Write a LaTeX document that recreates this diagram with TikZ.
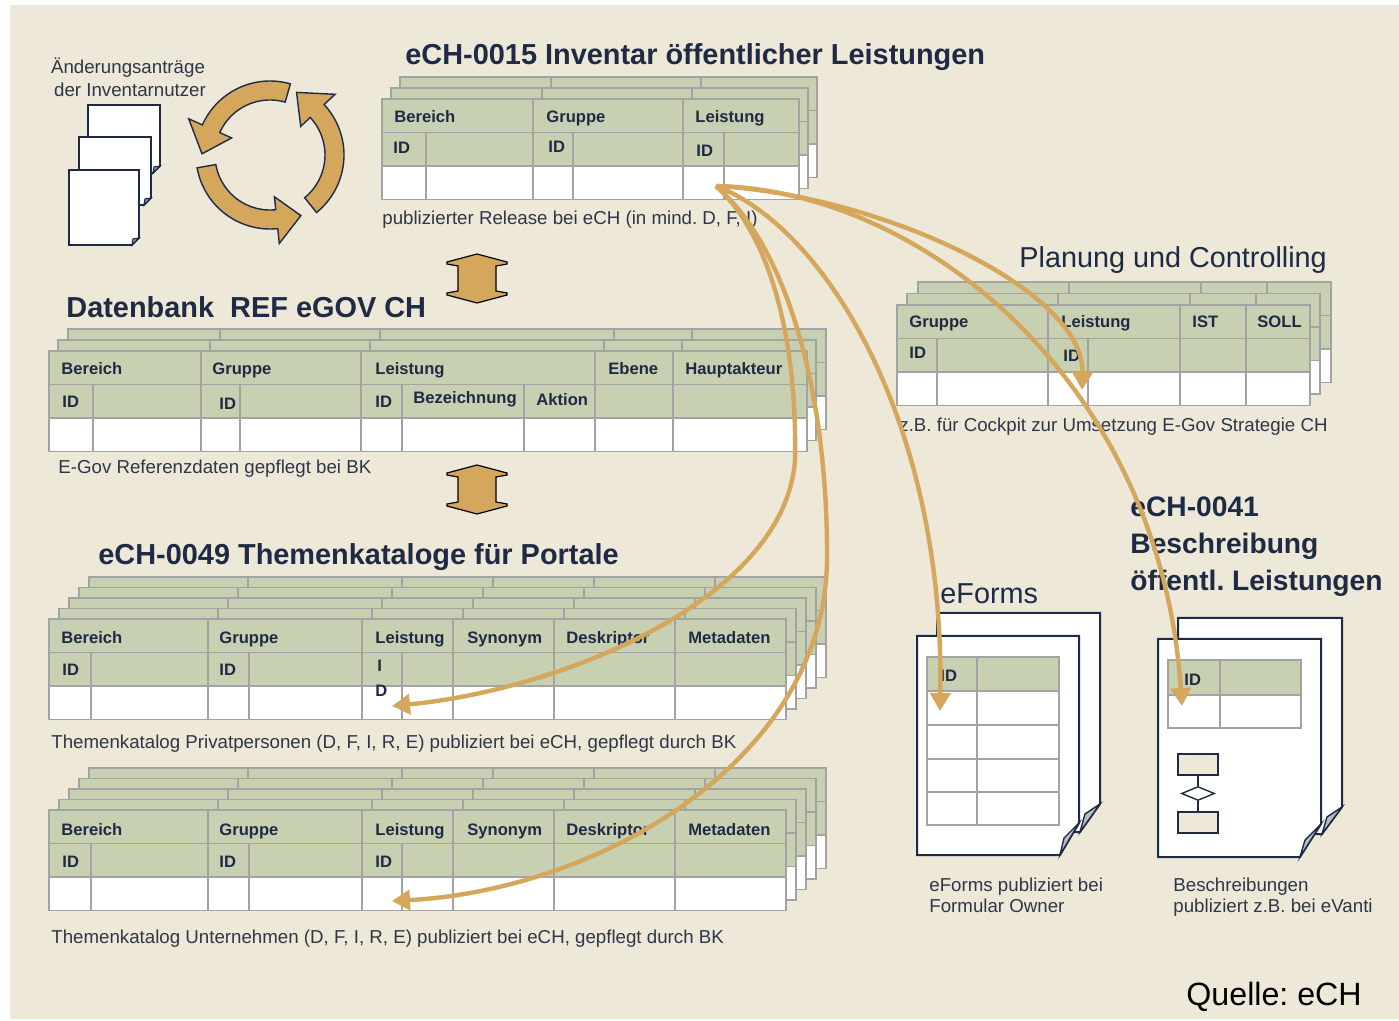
\documentclass[tikz,border=0pt]{standalone}
\usepackage{fontspec}
\setmainfont{Liberation Sans}
\usetikzlibrary{arrows.meta,shapes.geometric}
\frenchspacing
\definecolor{bg}{HTML}{EDE8D8}
\definecolor{hdr}{HTML}{C8D0B2}
\definecolor{gridc}{HTML}{A3A3A3}
\definecolor{gold}{HTML}{D4A75C}
\definecolor{navy}{HTML}{1E2B48}
\definecolor{txt}{HTML}{1F2A44}
\definecolor{capc}{HTML}{2F3648}
\definecolor{foldc}{HTML}{B9BDC3}

\newcommand{\ptab}[4]{%
  \begin{scope}[shift={#1}]
    \fill[white] (0,0) rectangle (#2,100.5);
    \fill[hdr] (0,0) rectangle (#2,67);
    \draw[tabline] (0,0) rectangle (#2,100.5) (0,33.5) -- (#2,33.5) (0,67) -- (#2,67);
    \foreach \xx in {#3} \draw[tabline] (\xx,0) -- (\xx,33.5);
    \foreach \xx in {#4} \draw[tabline] (\xx,33.5) -- (\xx,100.5);
  \end{scope}}

\newcommand{\smallpage}[4]{%
  \filldraw[fill=white, draw=navy, line width=0.8pt] (#1,#2) -- (#3,#2) -- (#3,#4-7) -- (#3-7,#4) -- (#1,#4) -- cycle;
  \filldraw[fill=navy!45, draw=navy, line width=0.6pt] (#3,#4-7) -- (#3-7,#4) -- (#3-6,#4-6) -- cycle;}

\newcommand{\cycarrow}[3]{% tail angle, head base angle, tip angle
  \filldraw[fill=gold, draw=navy, line width=0.7pt]
    plot[domain=#1:#2, samples=40] ({270+74*cos(\x)},{155+74*sin(\x)})
    -- ({270+89*cos(#2)},{155+89*sin(#2)})
    -- ({270+68*cos(#3)},{155+68*sin(#3)})
    -- ({270+42*cos(#2)},{155+42*sin(#2)})
    -- plot[domain=#2:#1, samples=40] ({270+55*cos(\x)},{155+55*sin(\x)})
    -- cycle;}

\begin{document}
\begin{tikzpicture}[x=0.5pt,y=-0.5pt,
  tabline/.style={draw=gridc, line width=0.8pt},
  lab/.style={anchor=west, inner sep=0pt, text=txt, font=\fontsize{8.3}{10}\selectfont\bfseries, text height=5.95pt, text depth=0pt},
  capt/.style={anchor=west, inner sep=0pt, text=capc, font=\fontsize{9.35}{11}\selectfont, text height=6.7pt, text depth=0pt},
  ttl/.style={anchor=west, inner sep=0pt, text=txt, font=\fontsize{14.45}{17}\selectfont\bfseries, text height=10.3pt, text depth=0pt},
  bigreg/.style={anchor=west, inner sep=0pt, text=txt, font=\fontsize{14.4}{17}\selectfont, text height=10.3pt, text depth=0pt},
  conn/.style={draw=gold, line width=2.2pt, -{Triangle[length=9pt,width=10pt]}},
  ibeam/.style={fill=gold, draw=black, line width=0.6pt},
  flowbox/.style={draw=navy, fill=bg, line width=0.7pt, minimum width=20pt, minimum height=10.5pt, inner sep=0pt},
  flowdia/.style={diamond, draw=navy, fill=white, line width=0.7pt, minimum width=16.5pt, minimum height=7pt, aspect=2.5, inner sep=0pt}]

\useasboundingbox (0,0) rectangle (1399,1021);
\fill[white] (0,0) rectangle (1399,1021);
\fill[bg] (10,5) rectangle (1399,1019);

% ---------- top left: change requests and cycle
\node[capt, anchor=center] (chg1) at (128,67) {Änderungsanträge};
\node[capt, anchor=center] (chg2) at (130,90) {der Inventarnutzer};
\smallpage{88}{105}{160}{173}
\smallpage{79}{137}{151}{205}
\smallpage{69}{170}{139}{245}
\cycarrow{-74}{-156}{-179}
\cycarrow{51}{-43}{-67}
\cycarrow{170}{84}{63}

% ---------- eCH-0015
\node[ttl] (t15) at (405,54) {eCH-0015 Inventar öffentlicher Leistungen};
\ptab{(400,77)}{417}{151,301}{44,151,191,301,342}
\ptab{(391,88)}{417}{151,301}{44,151,191,301,342}
\ptab{(382,99)}{417}{151,301}{44,151,191,301,342}
\node[lab] (a1) at (394,117) {Bereich};
\node[lab] (a2) at (546,117) {Gruppe};
\node[lab] (a3) at (695,117) {Leistung};
\node[lab] (a4) at (393,148) {ID};
\node[lab] (a5) at (548,147) {ID};
\node[lab] (a6) at (696,151) {ID};
\node[capt] (c15) at (382,218) {publizierter Release bei eCH (in mind. D, F, I)};

% ---------- I-beam arrows
\filldraw[ibeam] (477,254) -- (507,262) -- (507,264) -- (496,266) -- (496,291) -- (507,293) -- (507,295) -- (477,303) -- (447,295) -- (447,293) -- (458,291) -- (458,266) -- (447,264) -- (447,262) -- cycle;
\begin{scope}[shift={(0,211)}]
\filldraw[ibeam] (477,254) -- (507,262) -- (507,264) -- (496,266) -- (496,291) -- (507,293) -- (507,295) -- (477,303) -- (447,295) -- (447,293) -- (458,291) -- (458,266) -- (447,264) -- (447,262) -- cycle;
\end{scope}

% ---------- Datenbank REF eGOV CH
\node[ttl] (tdb) at (66,307) {Datenbank\ \ REF eGOV CH};
\ptab{(68,329)}{758}{152,312,546,624}{44,152,191,312,353,475,546,624}
\ptab{(58,340)}{758}{152,312,546,624}{44,152,191,312,353,475,546,624}
\ptab{(49,351)}{758}{152,312,546,624}{44,152,191,312,353,475,546,624}
\node[lab] (b1) at (61,369) {Bereich};
\node[lab] (b2) at (212,369) {Gruppe};
\node[lab] (b3) at (375,369) {Leistung};
\node[lab] (b4) at (608,369) {Ebene};
\node[lab] (b5) at (685,369) {Hauptakteur};
\node[lab] (b6) at (62,402) {ID};
\node[lab] (b7) at (219,404) {ID};
\node[lab] (b8) at (375,402) {ID};
\node[lab] (b9) at (413,398) {Bezeichnung};
\node[lab] (b10) at (536,400) {Aktion};
\node[capt] (cdb) at (58,467) {E-Gov Referenzdaten gepflegt bei BK};

% ---------- eCH-0049
\node[ttl] (t49) at (98,554) {eCH-0049 Themenkataloge für Portale};
\foreach \k in {4,3,2,1,0} {
  \ptab{({49+10*\k},{619-10.5*\k})}{737}{159,313,404,505,626}{42,159,200,313,353,404,505,626}
}
\node[lab] (p1) at (61,638) {Bereich};
\node[lab] (p2) at (219,638) {Gruppe};
\node[lab] (p3) at (375,638) {Leistung};
\node[lab] (p4) at (467,638) {Synonym};
\node[lab] (p5) at (566,638) {Deskriptor};
\node[lab] (p6) at (688,638) {Metadaten};
\node[lab] (p7) at (62,670) {ID};
\node[lab] (p8) at (219,670) {ID};
\node[lab] (p9) at (377,666) {I};
\node[lab] (p10) at (375,691) {D};
\node[capt] (cp) at (51,742) {Themenkatalog Privatpersonen (D, F, I, R, E) publiziert bei eCH, gepflegt durch BK};

\foreach \k in {4,3,2,1,0} {
  \ptab{({49+10*\k},{810-10.5*\k})}{737}{159,313,404,505,626}{42,159,200,313,353,404,505,626}
}
\node[lab] (u1) at (61,830) {Bereich};
\node[lab] (u2) at (219,830) {Gruppe};
\node[lab] (u3) at (375,830) {Leistung};
\node[lab] (u4) at (467,830) {Synonym};
\node[lab] (u5) at (566,830) {Deskriptor};
\node[lab] (u6) at (688,830) {Metadaten};
\node[lab] (u7) at (62,862) {ID};
\node[lab] (u8) at (219,862) {ID};
\node[lab] (u9) at (375,862) {ID};
\node[capt] (cu) at (51,937) {Themenkatalog Unternehmen (D, F, I, R, E) publiziert bei eCH, gepflegt durch BK};

% ---------- Planung und Controlling
\node[bigreg] (tpc) at (1019,257) {Planung und Controlling};
\ptab{(918,282)}{413}{151,283,349}{40,151,191,283,349}
\ptab{(907,293.5)}{413}{151,283,349}{40,151,191,283,349}
\ptab{(897,305)}{413}{151,283,349}{40,151,191,283,349}
\node[lab] (q1) at (909,322) {Gruppe};
\node[lab] (q2) at (1061,322) {Leistung};
\node[lab] (q3) at (1192,322) {IST};
\node[lab] (q4) at (1257,322) {SOLL};
\node[lab] (q5) at (909,353) {ID};
\node[lab] (q6) at (1063,356) {ID};
\node[capt] (cpc) at (899,425) {z.B. für Cockpit zur Umsetzung E-Gov Strategie CH};

% ---------- eForms
\node[bigreg] (tef) at (940,593) {eForms};
\filldraw[fill=white, draw=navy, line width=1pt] (937,613) -- (1100,613) -- (1100,804) -- (1080,832) -- (937,832) -- cycle;
\filldraw[fill=foldc, draw=navy, line width=0.7pt] (1100,804) -- (1080,832) -- (1085,814) -- cycle;
\filldraw[fill=white, draw=navy, line width=1pt] (917,636) -- (1079,636) -- (1079,823) -- (1060,855) -- (917,855) -- cycle;
\filldraw[fill=foldc, draw=navy, line width=0.7pt] (1079,823) -- (1060,855) -- (1064,838) -- cycle;
\fill[hdr] (927,657) rectangle (1059,691);
\draw[tabline] (927,657) rectangle (1059,825);
\foreach \yy in {691,725,759,792} \draw[tabline] (927,\yy) -- (1059,\yy);
\draw[tabline] (977,657) -- (977,825);
\node[lab] (e1) at (940,676) {ID};
\node[capt] (cef1) at (929,885) {eForms publiziert bei};
\node[capt] (cef2) at (929,906) {Formular Owner};

% ---------- eCH-0041
\node[ttl, font=\fontsize{14.1}{17}\selectfont\bfseries] (t41a) at (1130,506) {eCH-0041};
\node[ttl, font=\fontsize{14.1}{17}\selectfont\bfseries] (t41b) at (1130,543) {Beschreibung};
\node[ttl, font=\fontsize{14.1}{17}\selectfont\bfseries] (t41c) at (1130,580) {öffentl. Leistungen};
\filldraw[fill=white, draw=navy, line width=1pt] (1178,618) -- (1342,618) -- (1342,807) -- (1322,834) -- (1178,834) -- cycle;
\filldraw[fill=foldc, draw=navy, line width=0.7pt] (1342,807) -- (1322,834) -- (1327,817) -- cycle;
\filldraw[fill=white, draw=navy, line width=1pt] (1158,639) -- (1321,639) -- (1321,824) -- (1300,857) -- (1158,857) -- cycle;
\filldraw[fill=foldc, draw=navy, line width=0.7pt] (1321,824) -- (1300,857) -- (1305,840) -- cycle;
\fill[hdr] (1168,660) rectangle (1301,695);
\fill[white] (1168,695) rectangle (1301,728);
\draw[tabline] (1168,660) rectangle (1301,728) (1168,695) -- (1301,695) (1220,660) -- (1220,728);
\node[lab] (d1) at (1184,680) {ID};
\node[flowbox] (fb1) at (1198,764.5) {};
\node[flowdia] (fd) at (1198,793.5) {};
\node[flowbox] (fb2) at (1198,822.5) {};
\draw[navy, line width=0.7pt] (fb1) -- (fd) -- (fb2);
\node[capt] (cb1) at (1173,885) {Beschreibungen};
\node[capt] (cb2) at (1173,906) {publiziert z.B. bei eVanti};

% ---------- source
\node[anchor=west, inner sep=0pt, font=\fontsize{16.1}{19}\selectfont, text height=11.5pt, text depth=0pt] (src1) at (1186,994) {Quelle: eCH};

% ---------- connectors
\coordinate (src) at (716,186);
\coordinate (tPlan) at (1082,390);
\coordinate (tBes) at (1182,706);
\coordinate (tEf) at (940,711);
\coordinate (tPriv) at (392,706);
\coordinate (tUnt) at (392,901);
\draw[conn] (src) .. controls (880,195) and (1085,290) .. (tPlan);
\draw[conn] (src) .. controls (920,190) and (1160,380) .. (tBes);
\draw[conn] (src) .. controls (830,230) and (945,430) .. (tEf);
\draw[conn] (src) .. controls (775,240) and (797,350) .. (795,460) .. controls (785,600) and (560,690) .. (tPriv);
\draw[conn] (src) .. controls (790,250) and (828,400) .. (827,560) .. controls (825,760) and (600,890) .. (tUnt);
\end{tikzpicture}
\end{document}
